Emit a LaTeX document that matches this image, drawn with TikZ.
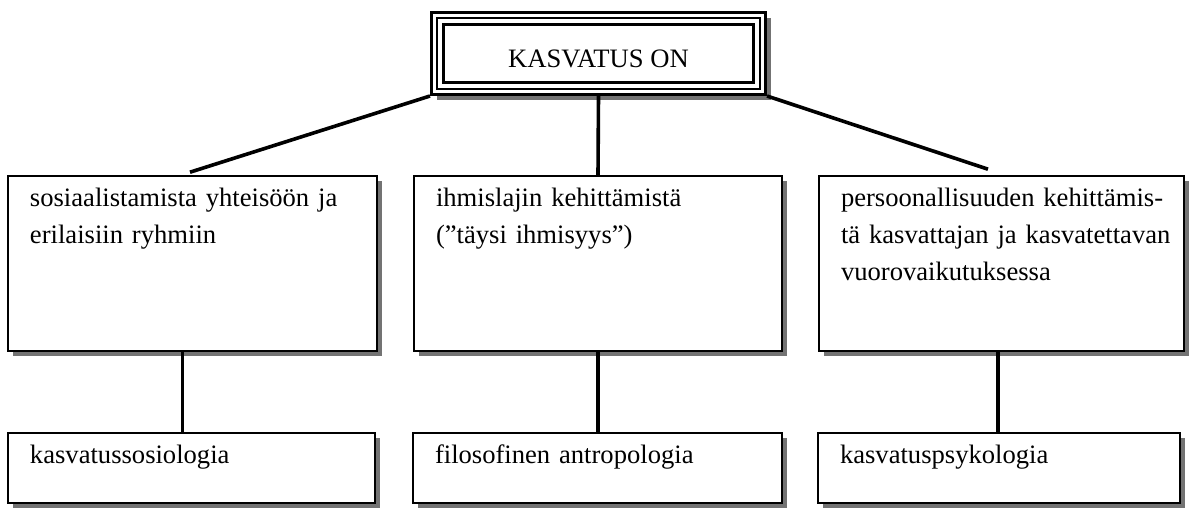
\documentclass[tikz,border=0pt]{standalone}
\usepackage{fontspec}
\setmainfont{Liberation Serif}
\usepackage{tikz}
\usetikzlibrary{shapes,positioning}
\usetikzlibrary{calc,shadows}
\tikzset{
	ombre/.style={general shadow={fill=black!55,shadow xshift=2.5pt,shadow yshift=-2.5pt}},
	boite/.style={draw,fill=white,line width=0.8pt,rectangle,align=left,inner xsep=11pt,inner ysep=0pt,text height=15pt,ombre},
	lien/.style={line width=1.8pt}
}
\newcommand{\jligne}[1]{\makebox[170pt][s]{#1}}

\begin{document}
\begin{tikzpicture}[x=1pt,y=1pt,every node/.style={font=\fontsize{13.3}{18.5}\selectfont}]
	\def\hmil{72.5pt};
	\def\hbas{20pt};
\useasboundingbox (0,0) rectangle (595.5,-257);

%Boite principale
\node[draw,fill=white,line width=1.5pt,minimum width=167pt,minimum height=41pt,inner sep=0pt,text height=14.5pt,text depth=0pt,ombre] (kasv) at (299.25,-26.75) {KASVATUS ON};
\draw[line width=0.6pt] ([shift={(3.5pt,3.5pt)}]kasv.south west) rectangle ([shift={(-3.5pt,-3.5pt)}]kasv.north east);
\draw[line width=1.5pt] ([shift={(6.75pt,6.75pt)}]kasv.south west) rectangle ([shift={(-6.75pt,-6.75pt)}]kasv.north east);

%Boites du milieu
\node[boite,text width=162.5pt,text depth=\hmil] (soc) at (96.25,-131.75) {sosiaalistamista yhteisöön ja\\erilaisiin ryhmiin};
\node[boite,text width=162pt,text depth=\hmil] (ihm) at (299,-131.75) {ihmislajin kehittämistä\\(”täysi ihmisyys”)};
\node[boite,text width=160.5pt,text depth=\hmil] (pers) at (500.75,-131.75) {\jligne{persoonallisuuden kehittämis-}\\\jligne{tä kasvattajan ja kasvatettavan}\\vuorovaikutuksessa};

%Boites du bas
\node[boite,text width=161.5pt,text depth=\hbas] (ksos) at (95.75,-234) {kasvatussosiologia};
\node[boite,text width=162.5pt,text depth=\hbas] (filo) at (298.75,-234) {filosofinen antropologia};
\node[boite,text width=159pt,text depth=\hbas] (kpsy) at (499.5,-234) {kasvatuspsykologia};

%Liens
\draw[lien] (kasv.south west) -- ([shift={(-1.25pt,1.5pt)}]soc.north);
\draw[lien] (kasv.south) -- (ihm.north);
\draw[lien] (kasv.south east) -- ([shift={(-6.75pt,3pt)}]pers.north);
\draw[lien] ([xshift=-5pt]soc.south) -- ([xshift=-5pt]soc.south |- ksos.north);
\draw[lien] (ihm.south) -- (ihm.south |- filo.north);
\draw[lien] ([xshift=-1.75pt]pers.south) -- ([xshift=-1.75pt]pers.south |- kpsy.north);

\end{tikzpicture}
\end{document}
